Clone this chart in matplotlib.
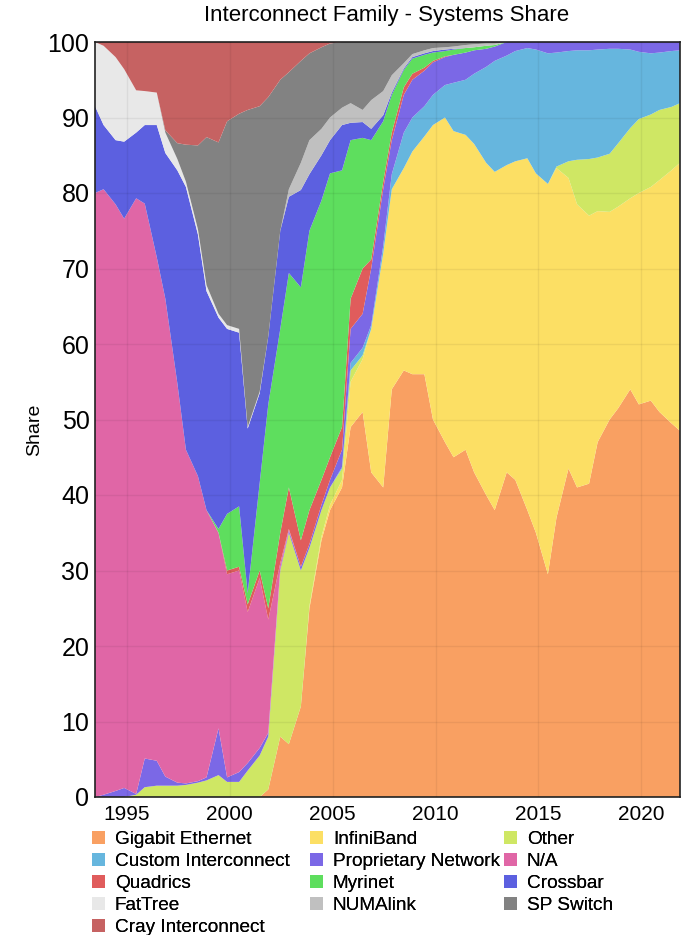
import matplotlib
matplotlib.use("Agg")
import matplotlib.pyplot as plt
from matplotlib.patches import Patch
import numpy as np

plt.rcParams['font.family'] = ['Liberation Sans', 'DejaVu Sans']

# TOP500 lists (June / November), 1993-06 .. 2021-11
years = list(range(1993, 2022))
list_labels = [f"{y}-{m:02d}" for y in years for m in (6, 11)]

series_names = ["Gigabit Ethernet", "InfiniBand", "Other", "Custom Interconnect",
                "Proprietary Network", "N/A", "Quadrics", "Myrinet", "Crossbar",
                "FatTree", "NUMAlink", "SP Switch", "Cray Interconnect"]

gigabit_ethernet = [0]*17 + [1, 8, 7, 12, 25, 34, 38, 41, 49, 51,
                             43, 41, 54, 56.5, 56, 56, 50, 47, 45, 46,
                             43, 40, 38, 43, 42, 38, 35, 29.5, 37, 43.5,
                             41, 41.5, 47, 50, 51.5, 54, 52, 52.5, 51, 49.5,
                             48.5]
infiniband = [0]*21 + [0.3, 0.5, 0.7, 1, 6, 7, 19, 31, 26.5, 26.8, 29.5, 31.5, 39, 43,
                       43.2, 41.7, 43.5, 44, 44.8, 40.7, 42.2, 46.6, 47.6, 51.7, 46.3,
                       38.5, 37.5, 35.5, 30.6, 27.5, 26.7, 25.3, 28, 28.3, 30.7, 33.5, 35.5]
other = [0, 0, 0, 0, 0.3, 1.3, 1.5, 1.5, 1.5, 1.6, 1.9, 2.2, 2.9, 2.0, 2.0, 3.5, 5.5,
         7, 22, 28, 18, 7.7, 3.5, 2.3, 1.5, 1.5, 0.5] + [0]*18 + \
        [0.2, 2.2, 5.9, 7.5, 7.1, 7.7, 8.4, 9.3, 9.8, 9.6, 9.3, 8.4, 7.9]
custom_interconnect = [0]*24 + [0.2, 1, 1, 0.5, 1, 2, 4.7, 4.5, 4, 4, 4.3, 6.4, 7.3, 9.3,
                                12.7, 14.7, 14.5, 14.6, 14.6, 16.4, 17.3, 15.1, 14.6, 14.5,
                                14.4, 14.3, 13.9, 12.5, 10.4, 8.9, 8.1, 7.6, 7.4, 7.0]
proprietary = [0, 0.3, 0.8, 1.2, 0.1, 3.8, 3.3, 1.2, 0.4, 0.2, 0.2, 0.4, 6.2, 0.6, 1.3,
               1.0, 1.0, 0.5, 0.3, 0.3, 0.5, 0.5, 0.7, 1.0, 2.3, 4.5, 4.5, 7.5, 7.5, 4.5,
               5, 5, 4.7, 4.3, 3.7, 3.7, 3.6, 3.1, 2.4, 1.9, 1.8, 1.2, 0.8, 1.0, 1.5,
               1.4, 1.2, 1.1, 1.1, 1.0, 0.9, 0.9, 1.0, 1.3, 1.5, 1.4, 1.2, 1.1]
not_available = [80, 80.2, 77.7, 75.4, 78.9, 73.5, 66.7, 63.3, 52.9, 44.2, 40.4, 35.4,
                 25.9, 26.9, 26.7, 20, 22.5, 15, 0.7, 0.2] + [0]*38
quadrics = [0]*13 + [0.5, 0.5, 1.0, 1.0, 1.5, 4, 5.5, 3.5, 4.5, 3.3, 3, 3, 4, 6, 1.2,
                     1, 1, 1, 0.8, 0.4, 0.2, 0.1] + [0]*23
myrinet = [0]*12 + [0.5, 7.5, 8, 1.5, 11.6, 27, 27, 28.4, 33.5, 37, 37, 37.6, 34, 21,
                    17.3, 15.8, 8, 5, 2.3, 2, 1.7, 1.1, 0.7, 0.7, 0.6, 0.4, 0.4, 0.2] + [0]*18
crossbar = [11.5, 8.5, 8.5, 10.2, 8.7, 10.4, 17.5, 19.3, 28.2, 34.8, 32, 29, 28, 24.5,
            23, 21.8, 11.9, 9, 13, 10.1, 12.9, 7.5, 6, 4.4, 6, 2.3, 2.1, 1.5, 0.8, 0.3,
            0.2, 0.2, 0.2, 0.2, 0.2, 0.1] + [0]*22
fattree = [8.5, 10.5, 11, 9.6, 5.6, 4.5, 4.3, 2.7, 1.5, 0.7, 0.7, 0.8, 0.5, 0.5, 0.5,
           0.2, 0.2] + [0]*41
numalink = [0]*19 + [1, 3.6, 4.5, 3.5, 3, 2.3, 2.6, 1.6, 3.8, 3.2, 2.3, 0.7, 0.4, 0.4,
                     0.4, 0.3, 0.3, 0.4, 0.4, 0.3, 0.2] + [0]*18
sp_switch = [0]*7 + [0.3, 2.1, 4.9, 11.1, 19.6, 22.7, 27, 28.5, 42, 37.8, 31.7, 20, 15.5,
                     13.5, 11.5, 10.8, 9.8, 8.7, 8.1, 9, 7.7, 6.5, 4.4, 2.8, 1.6, 1.1, 0.8,
                     0.7, 0.6, 0.4, 0.3, 0.2, 0.2] + [0]*18
cray = [0, 0.5, 2, 3.6, 6.4, 6.5, 6.7, 11.7, 13.4, 13.6, 13.7, 12.6, 13.3, 10.5, 9.5, 9,
        8.5, 7.3, 5, 4, 2.5, 1.5, 0.7, 0.2] + [0]*34

colors = ["#f9a062", "#fcdf64", "#cfe764", "#66b6de", "#7b68e6", "#e066a6", "#e05c5c",
          "#5ede5e", "#5c60e0", "#e8e8e8", "#c0c0c0", "#828282", "#c66262"]

x = np.array([int(s[:4]) + (int(s[5:]) - 0.5) / 12.0 for s in list_labels])
data = [gigabit_ethernet, infiniband, other, custom_interconnect, proprietary,
        not_available, quadrics, myrinet, crossbar, fattree, numalink, sp_switch, cray]

fig = plt.figure(figsize=(6.9, 9.35), dpi=100)
ax = fig.add_axes([95/690, 1-797/935, 585/690, 755/935])
ax.stackplot(x, *[np.array(d, dtype=float) for d in data], colors=colors,
             linewidth=0, antialiased=True)
ax.set_xlim(x[0], x[-1])
ax.set_ylim(0, 100)
ax.set_xticks([1995, 2000, 2005, 2010, 2015, 2020])
ax.set_yticks(range(0, 101, 10))
ax.tick_params(length=0, labelsize=15, pad=6)
ax.tick_params(axis='y', labelsize=18, pad=4)
ax.grid(True, color='k', alpha=0.06, lw=1)
ax.set_axisbelow(False)
for s in ax.spines.values():
    s.set_color('#222222')
    s.set_linewidth(1.2)
fig.text(35/690, 1-430/935, "Share", rotation=90, ha='center', va='center', fontsize=14)
fig.text(387/690, 1-16/935, "Interconnect Family - Systems Share", ha='center', va='center',
         fontsize=16)

# legend: three columns, filled row by row
columns = [[0, 3, 6, 9, 12], [1, 4, 7, 10], [2, 5, 8, 11]]
col_x = [92, 310, 504]
for cidx, xpos in zip(columns, col_x):
    handles = [Patch(facecolor=colors[i], edgecolor='none') for i in cidx]
    labels = [series_names[i] for i in cidx]
    leg = fig.legend(handles, labels, loc='upper left',
                     bbox_to_anchor=(xpos/690, 1-831/935), ncol=1,
                     frameon=False, fontsize=13.7, handlelength=0.7, handleheight=0.7,
                     handletextpad=0.5, labelspacing=0.245, borderpad=0, borderaxespad=0)
    fig.add_artist(leg)

fig.savefig("out.png", dpi=100)
